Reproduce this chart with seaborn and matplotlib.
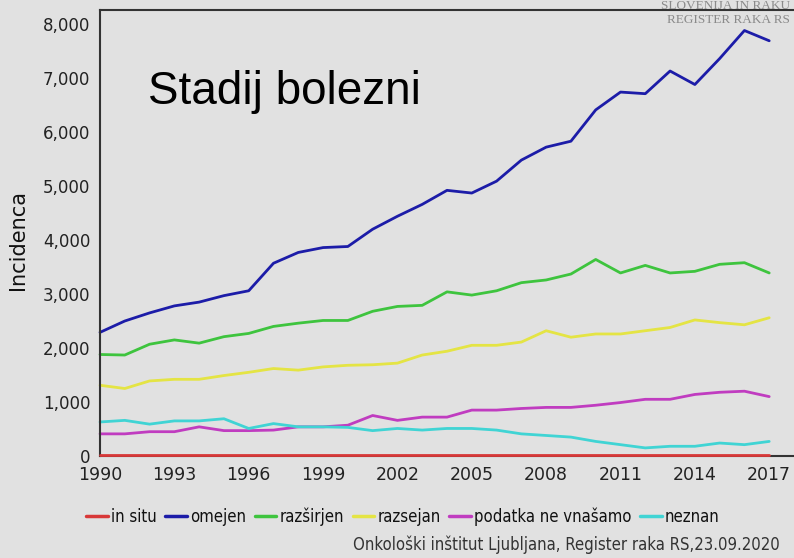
import matplotlib
matplotlib.use("Agg")
import matplotlib.pyplot as plt
from matplotlib.lines import Line2D
import seaborn as sns
import pandas as pd

years = list(range(1990, 2018))
in_situ = [12] * 28
omejen = [2290, 2500, 2650, 2780, 2850, 2970, 3060, 3570, 3770, 3860, 3880, 4200,
          4440, 4660, 4920, 4870, 5090, 5480, 5720, 5830, 6410, 6740, 6710, 7130,
          6880, 7360, 7880, 7690]
razsirjen = [1880, 1870, 2070, 2150, 2090, 2210, 2270, 2400, 2460, 2510, 2510, 2680,
             2770, 2790, 3040, 2980, 3060, 3210, 3260, 3370, 3640, 3390, 3530, 3390,
             3420, 3550, 3580, 3390]
razsejan = [1310, 1250, 1390, 1420, 1420, 1490, 1550, 1620, 1590, 1650, 1680, 1690,
            1720, 1870, 1940, 2050, 2050, 2110, 2320, 2200, 2260, 2260, 2320, 2380,
            2520, 2470, 2430, 2560]
ne_vnasamo = [410, 410, 450, 450, 540, 470, 470, 480, 540, 540, 570, 750,
              660, 720, 720, 850, 850, 880, 900, 900, 940, 990, 1050, 1050,
              1140, 1180, 1200, 1100]
neznan = [630, 660, 590, 650, 650, 690, 510, 600, 540, 540, 530, 470,
          510, 480, 510, 510, 480, 410, 380, 350, 270, 210, 150, 180,
          180, 240, 210, 270]

series = ["in situ", "omejen", "razširjen", "razsejan", "podatka ne vnašamo", "neznan"]
colors = ["#d83838", "#1c1ca8", "#3ec43e", "#e4e444", "#c03cc0", "#40d4d4"]

df = pd.concat([
    pd.DataFrame({"leto": years, "incidenca": vals, "stadij": name})
    for name, vals in zip(series, [in_situ, omejen, razsirjen, razsejan, ne_vnasamo, neznan])
])

bg = "#e1e1e1"
sns.set_style("white")
plt.rcParams["font.family"] = ["DejaVu Sans"]

fig = plt.figure(figsize=(7.94, 5.58), dpi=100, facecolor=bg)
ax = fig.add_axes([100 / 794, 1 - 456 / 558, 1 - 100 / 794, 446 / 558])
ax.set_facecolor(bg)

sns.lineplot(data=df, x="leto", y="incidenca", hue="stadij", hue_order=series,
             palette=colors, linewidth=2.0, legend=False, ax=ax)
for ln in ax.lines:
    ln.set_clip_on(False)
ax.lines[0].set_zorder(5)

ax.set_xlim(1990, 2018)
ax.set_ylim(0, 8260)
ax.set_xticks(list(range(1990, 2018, 3)))
ax.set_yticks(range(0, 8001, 1000))
ax.set_yticklabels([f"{v:,}" for v in range(0, 8001, 1000)])
ax.tick_params(axis="both", labelsize=12, colors="#222222", length=4, width=1.2,
               direction="out", pad=3)
ax.tick_params(axis="x", labelsize=12.5, length=3, pad=4)
ax.set_xlabel("")
ax.set_ylabel("")
for s in ["left", "bottom", "top"]:
    ax.spines[s].set_color("#333333")
    ax.spines[s].set_linewidth(1.5)
ax.spines["right"].set_visible(False)

fig.text(18 / 794, 1 - 240 / 558, "Incidenca", rotation=90, fontsize=15,
         ha="center", va="center", color="#111111")
fig.text(148 / 794, 1 - 92 / 558, "Stadij bolezni", fontsize=33,
         family="Liberation Sans", ha="left", va="center", color="#000000")

# watermark top right
fig.text(790 / 794, 1 - 6 / 558, "SLOVENIJA IN RAKU", fontsize=9.5,
         family="Liberation Serif", color="#8a8a8a", ha="right", va="center")
fig.text(790 / 794, 1 - 20 / 558, "REGISTER RAKA RS", fontsize=9.5,
         family="Liberation Serif", color="#8a8a8a", ha="right", va="center")

handles = [Line2D([0], [0], color=c, lw=2.5) for c in colors]
fig.legend(handles, series, loc="center", bbox_to_anchor=(403 / 794, 1 - 517 / 558),
           ncol=6, frameon=False, handlelength=1.3, handletextpad=0.2,
           columnspacing=0.5, prop={"size": 12, "stretch": "condensed"},
           labelcolor="#111111")

fig.text(780 / 794, 1 - 545 / 558,
         "Onkološki inštitut Ljubljana, Register raka RS,23.09.2020",
         fontsize=12, stretch="condensed", color="#333333", ha="right", va="center")

fig.savefig("out.png", dpi=100, facecolor=bg)
